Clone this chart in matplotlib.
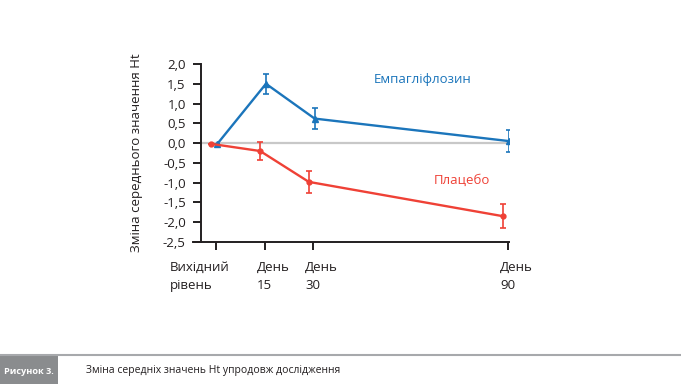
import matplotlib
matplotlib.use("Agg")
import matplotlib.pyplot as plt
import matplotlib.transforms as mtransforms
from matplotlib.patches import Rectangle
from matplotlib.lines import Line2D

plt.rcParams['font.family'] = ['Open Sans', 'DejaVu Sans']

# ---- data ----
days = [0, 15, 30, 90]
tick_labels = ["Вихідний\nрівень", "День\n15", "День\n30", "День\n90"]
empa_mean = [-0.02, 1.50, 0.62, 0.05]
empa_err = [0.0, 0.25, 0.27, 0.27]
plac_mean = [-0.02, -0.20, -0.98, -1.85]
plac_err = [0.0, 0.23, 0.27, 0.30]
empa_name = "Емпагліфлозин"
plac_name = "Плацебо"
y_ticks = [2.0, 1.5, 1.0, 0.5, 0.0, -0.5, -1.0, -1.5, -2.0, -2.5]
y_label = "Зміна середнього значення Ht"
fig_no = "Рисунок 3."
caption = "Зміна середніх значень Ht упродовж дослідження"

blue = "#1b75bb"
red = "#ef4136"

W, H = 681, 384
fig = plt.figure(figsize=(W / 100, H / 100), dpi=100)
ax_left, ax_right, ax_top, ax_bot = 193, 509, 64, 242
ax = fig.add_axes([ax_left / W, 1 - ax_bot / H, (ax_right - ax_left) / W, (ax_bot - ax_top) / H])

px_per_day = (508 - 216) / 90.0
x_min = -(216 - ax_left) / px_per_day
x_max = (ax_right - 216) / px_per_day
ax.set_xlim(x_min, x_max)
ax.set_ylim(-2.5, 2.0)

# zero line
ax.axhline(0, xmin=(201 - ax_left) / (ax_right - ax_left), xmax=1.0,
           color="#c8c8c8", lw=1.6, zorder=1)

# small horizontal offsets (in days) so the two series don't overlap
dx = 1.4
ax.errorbar([d + 0.4 for d in days], empa_mean, yerr=empa_err, color=blue, lw=1.7,
            marker="^", ms=4, capsize=2.5, capthick=1.2, elinewidth=1.2, zorder=3)
ax.errorbar([d - dx for d in days], plac_mean, yerr=plac_err, color=red, lw=1.7,
            marker="o", ms=3.5, capsize=2.5, capthick=1.2, elinewidth=1.2, zorder=3)

ax.text(48.5, 1.6, empa_name, color=blue, fontsize=9.5, ha="left", va="center")
ax.text(67, -0.93, plac_name, color=red, fontsize=9.5, ha="left", va="center")

# spines
for s in ["top", "right"]:
    ax.spines[s].set_visible(False)
ax.spines["left"].set_position(("data", -(216 - 201) / px_per_day))
ax.spines["left"].set_linewidth(1.4)
ax.spines["bottom"].set_linewidth(1.4)
ax.spines["left"].set_color("#231f20")
ax.spines["bottom"].set_color("#231f20")

ax.set_yticks(y_ticks)
ax.set_yticklabels([f"{v:.1f}".replace(".", ",") for v in y_ticks])
ax.tick_params(axis="y", length=6, width=1.4, pad=5, labelsize=9.5, colors="#231f20")
ax.set_xticks(days)
ax.set_xticklabels(tick_labels, ha="left", linespacing=1.55)
ax.tick_params(axis="x", length=5.5, width=1.4, pad=8, labelsize=9.5, colors="#231f20")
offsets_px = [-46, -8, -8, -8]
for lab, off in zip(ax.get_xticklabels(), offsets_px):
    lab.set_transform(lab.get_transform() + mtransforms.ScaledTranslation(off / 100, 0, fig.dpi_scale_trans))

ax.set_ylabel(y_label, fontsize=9.5, color="#231f20")
ax.yaxis.set_label_coords((143 - ax_left) / (ax_right - ax_left), 0.5)

# footer
fig.add_artist(Line2D([0, 1], [1 - 355 / H, 1 - 355 / H], color="#a7a9ac", lw=1.5,
                      transform=fig.transFigure))
fig.add_artist(Rectangle((0, 0), 58 / W, 1 - 356 / H, transform=fig.transFigure,
                         facecolor="#8a8c8e", edgecolor="none"))
fig.text(29 / W, 1 - 371 / H, fig_no, color="white", fontsize=6.6, fontweight="bold",
         ha="center", va="center")
fig.text(86 / W, 1 - 371 / H, caption, color="#231f20", fontsize=7.5,
         ha="left", va="center")

fig.savefig("out.png", dpi=100)
